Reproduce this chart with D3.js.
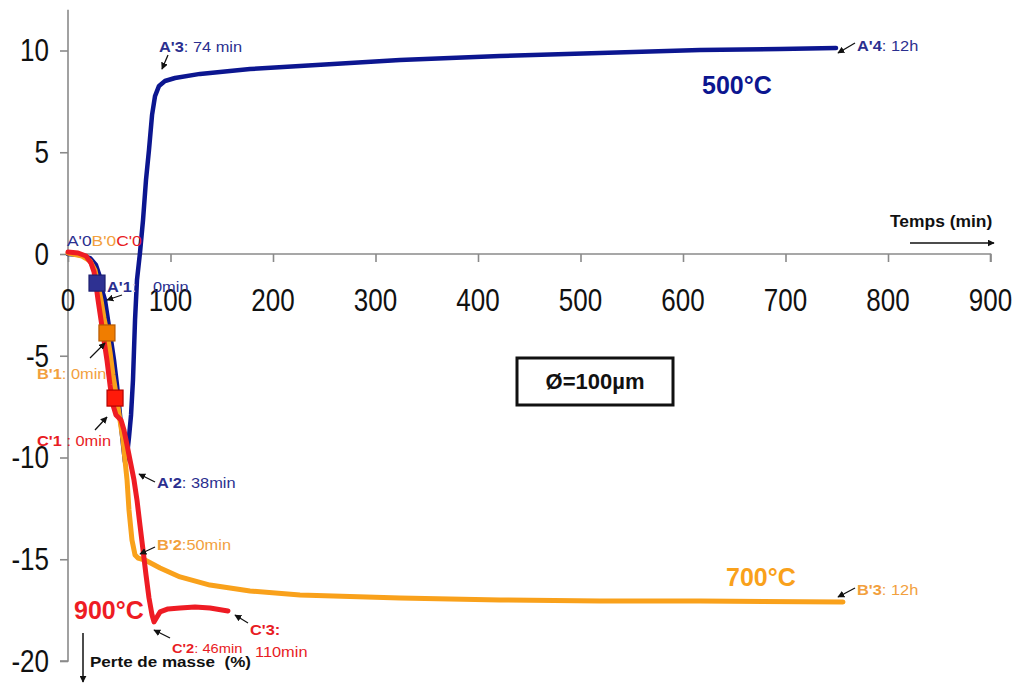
<!DOCTYPE html>
<html><head><meta charset="utf-8">
<script src="https://cdn.jsdelivr.net/npm/d3@7"></script>
<style>
html,body{margin:0;padding:0;background:#fff;}
svg{display:block;font-family:"Liberation Sans",Arial,sans-serif;}
</style></head>
<body>
<svg id="c" width="1017" height="683"></svg>
<script>
// ---------- data ----------
const xTickValues = [0,100,200,300,400,500,600,700,800,900];
const yTickValues = [10,5,0,-5,-10,-15,-20];

// 500°C (series A)
const time500 = [0,11.7,21.5,27.3,31.2,33.2,36.1,39,42,44.9,47.8,49.8,51.7,53.7,55.6,57.6,59.5,61.5,63.4,65.4,67.3,70.2,73.2,76.1,79,82,84.9,88.8,94.6,104.4,128.8,177.6,226.3,275.1,323.9,421.5,519,616.6,694.6,749.3];
const mass500 = [0,-0.05,-0.2,-0.54,-1.13,-1.77,-2.26,-3.24,-4.23,-5.21,-6.44,-7.42,-8.4,-9.39,-10.22,-9.88,-9.0,-7.91,-6.19,-3.24,-1.28,0.05,1.67,3.64,5.11,6.83,7.76,8.26,8.5,8.65,8.85,9.09,9.24,9.39,9.53,9.73,9.88,10.02,10.07,10.12];

// 700°C (series B)
const time700 = [0,13.7,21.5,26.3,29.3,32.2,35.1,38,41,43.9,47.8,50.7,53.7,55.6,57.6,59.5,62.4,65.4,68.3,75.1,89.8,109.3,138.5,177.6,226.3,323.9,421.5,519,616.6,756.1];
const mass700 = [0.05,-0.1,-0.34,-0.79,-1.52,-2.26,-3.14,-3.88,-4.82,-5.95,-7.17,-8.16,-9.14,-10.12,-11.1,-12.58,-14.05,-14.79,-14.94,-15.04,-15.43,-15.87,-16.27,-16.56,-16.76,-16.9,-17.0,-17.05,-17.05,-17.1];

// 900°C (series C)
const time900 = [0,9.8,17.6,22.4,25.4,27.3,29.3,32.2,35.1,38,41,43.9,46.8,51.7,54.6,57.6,60.5,64.4,67.3,70.2,73.2,76.1,79,82,83.9,86.8,89.8,97.6,109.3,123.9,138.5,156.1];
const mass900 = [0.1,0.05,-0.1,-0.44,-0.88,-1.52,-2.26,-3.24,-4.23,-5.21,-6.44,-7.42,-7.91,-8.16,-8.65,-9.39,-10.12,-11.11,-12.09,-13.32,-14.55,-15.77,-16.9,-17.74,-18.08,-17.84,-17.59,-17.44,-17.4,-17.35,-17.4,-17.54];

// marked points (A'1, B'1, C'1)
const markerNames = ["A'1","B'1","C'1"];
const markerTime = [28.3,38.0,45.9];
const markerMass = [-1.43,-3.88,-7.08];

// ---------- layout ----------
const svg = d3.select("#c");
const x = d3.scaleLinear().domain([0,900]).range([68,990.5]);
const y = d3.scaleLinear().domain([-20,12]).range([661,9.8]);

const axisColor = "#8a8a8a";
const cBlue = "#0c1690", cBlueT = "#2b2f8f";
const cOrange = "#f9a11b", cOrangeT = "#f2a03d";
const cRed = "#ee1c24", cRedT = "#e81c24";

svg.append("defs").append("marker")
  .attr("id","ah").attr("viewBox","0 0 10 10").attr("refX",9).attr("refY",5)
  .attr("markerWidth",7).attr("markerHeight",7).attr("orient","auto-start-reverse")
  .attr("markerUnits","userSpaceOnUse")
  .append("path").attr("d","M0,0L10,5L0,10z").attr("fill","#111");

// axes
const gx = svg.append("g").attr("transform",`translate(0,${y(0)})`)
  .call(d3.axisBottom(x).tickValues(xTickValues).tickSize(8).tickFormat(""));
const gy = svg.append("g").attr("transform",`translate(${x(0)},0)`)
  .call(d3.axisLeft(y).tickValues(yTickValues).tickSize(8).tickFormat(""));
[gx,gy].forEach(g=>{
  g.selectAll("path,line").attr("stroke",axisColor).attr("stroke-width",1.6);
});
gy.select(".domain").attr("d",`M-8,${y(-20)}H0V${y(12)}`);
gx.select(".domain").attr("d",`M${x(0)},0H${x(900)}V8`);

// tick labels
xTickValues.forEach(v=>{
  svg.append("g").attr("transform",`translate(${x(v)},300) scale(1,1.2)`)
    .append("text").attr("text-anchor","middle").attr("dominant-baseline","central")
    .attr("font-size",26).attr("fill","#111").text(v);
});
yTickValues.forEach(v=>{
  svg.append("g").attr("transform",`translate(49,${y(v)}) scale(1,1.2)`)
    .append("text").attr("text-anchor","end").attr("dominant-baseline","central")
    .attr("font-size",26).attr("fill","#111").text(v);
});

// series
const line = d3.line().x(d=>x(d[0])).y(d=>y(d[1])).curve(d3.curveLinear);
function drawSeries(t,m,color,w){
  svg.append("path").datum(d3.zip(t,m)).attr("d",line)
    .attr("fill","none").attr("stroke",color).attr("stroke-width",w)
    .attr("stroke-linejoin","round").attr("stroke-linecap","round");
}
drawSeries(time500,mass500,cBlue,4.5);
drawSeries(time700,mass700,cOrange,5);
drawSeries(time900,mass900,cRed,5);

// square markers
const sqFill = ["#2e3192","#f07d00","#ff1a0a"];
const sqStroke = ["#1b1f70","#b85a00","#b30000"];
markerNames.forEach((n,i)=>{
  svg.append("rect").attr("x",x(markerTime[i])-8).attr("y",y(markerMass[i])-8)
    .attr("width",16).attr("height",16).attr("fill",sqFill[i])
    .attr("stroke",sqStroke[i]).attr("stroke-width",1.2);
});

// annotation arrows
const arrows = [
  [122,295,107,300],[90,358,105,343],[95,430,107,417],
  [155,482,139,474],[155,547,140,554],[170,638,154,630],
  [248,623,235,615],[168,55,162,69],[855,43,838,53],[855,588,838,597]
];
arrows.forEach(a=>{
  svg.append("line").attr("x1",a[0]).attr("y1",a[1]).attr("x2",a[2]).attr("y2",a[3])
    .attr("stroke","#111").attr("stroke-width",1.3).attr("marker-end","url(#ah)");
});

// annotation labels (slightly wide lettering as in reference)
const SX = 1.13;
function label(xp,yp,parts,size,sx){
  const k = sx||SX;
  const t = svg.append("g").attr("transform",`translate(${xp},${yp}) scale(${k},1)`)
    .append("text").attr("x",0).attr("y",0).attr("font-size",size||14.5);
  parts.forEach(p=>{
    const s = t.append("tspan").text(p[0]).attr("fill",p[1]).attr("font-weight",p[2]?"bold":"normal");
    if(p[3]!==undefined) s.attr("x",(p[3]-xp)/k);
  });
  return t;
}
label(67,246,[["A'0",cBlueT],["B'0",cOrangeT],["C'0",cRedT]],14.5,1.2);
label(107,292,[["A'1",cBlueT,true],[":",'#c9c9e0'],["0min",cBlueT,false,153]],14.5);
label(37,379,[["B'1",cOrangeT,true],[": 0min",cOrangeT]],14.5);
label(37,446,[["C'1",cRedT,true],[" : 0min",cRedT]],14.5);
label(157,488,[["A'2",cBlueT,true],[": 38min",cBlueT]],14.5);
label(157,550,[["B'2",cOrangeT,true],[":50min",cOrangeT]],14.5);
label(172,653,[["C'2",cRedT,true],[": 46min",cRedT]],13);
label(250,635,[["C'3:",cRedT,true]],14.5);
label(255,657,[["110min",cRedT]],14.5);
label(159,52,[["A'3",cBlueT,true],[": 74 min",cBlueT]],14.5);
label(857,51,[["A'4",cBlueT,true],[": 12h",cBlueT]],14.5);
label(857,595,[["B'3",cOrangeT,true],[": 12h",cOrangeT]],14.5);

// temperature labels
svg.append("text").attr("x",702).attr("y",94).attr("font-size",25).attr("font-weight","bold").attr("fill",cBlue).text("500°C");
svg.append("text").attr("x",726).attr("y",586).attr("font-size",25).attr("font-weight","bold").attr("fill",cOrange).text("700°C");
svg.append("text").attr("x",74).attr("y",619).attr("font-size",25).attr("font-weight","bold").attr("fill",cRed).text("900°C");

// axis titles
svg.append("g").attr("transform","translate(890,227) scale(1.09,1)")
  .append("text").attr("font-size",16).attr("font-weight","bold").attr("fill","#111").text("Temps (min)");
svg.append("line").attr("x1",910).attr("y1",243).attr("x2",994).attr("y2",243)
  .attr("stroke","#111").attr("stroke-width",1.5).attr("marker-end","url(#ah)");
svg.append("g").attr("transform","translate(90,667) scale(1.1,1)")
  .append("text").attr("font-size",15.5).attr("font-weight","bold").attr("fill","#111")
  .attr("xml:space","preserve").text("Perte de masse  (%)");
svg.append("line").attr("x1",83).attr("y1",633).attr("x2",83).attr("y2",682)
  .attr("stroke","#111").attr("stroke-width",1.5).attr("marker-end","url(#ah)");

// size box
svg.append("rect").attr("x",517).attr("y",358).attr("width",156).attr("height",47)
  .attr("fill","#fff").attr("stroke","#111").attr("stroke-width",3);
svg.append("text").attr("x",595).attr("y",389).attr("text-anchor","middle")
  .attr("font-size",22).attr("font-weight","bold").attr("fill","#111").text("Ø=100µm");
</script>
</body></html>
